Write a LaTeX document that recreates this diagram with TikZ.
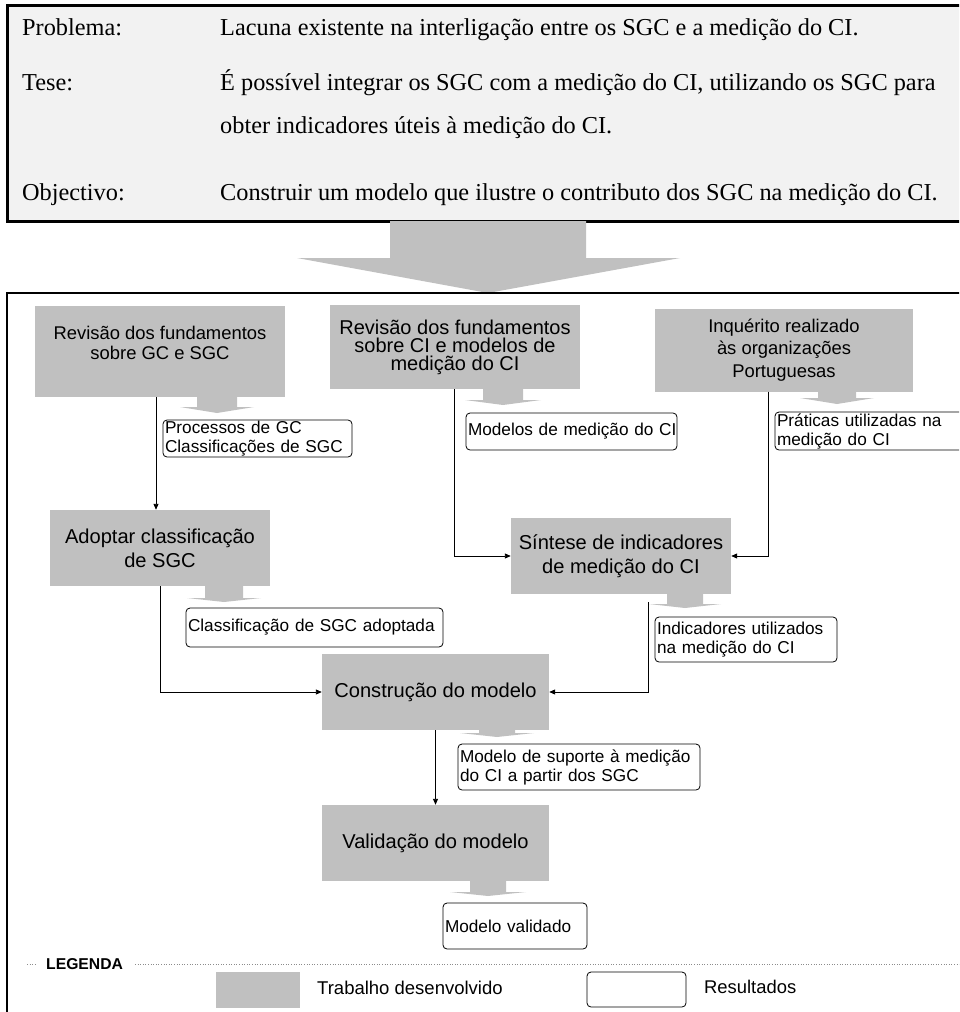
\documentclass[tikz,border=0pt]{standalone}
\usepackage{fontspec}
\setmainfont{Liberation Serif}
\setsansfont{Liberation Sans}
\usetikzlibrary{arrows.meta,calc}

\definecolor{silv}{HTML}{C0C0C0}
\definecolor{paper}{HTML}{F2F2F2}
\definecolor{legline}{HTML}{8C8C8C}

\newcommand\fs[2]{\fontsize{#1}{#2}\selectfont}
% small grey block arrow under a box: centre x, top y, neck y, tip y, half shaft, half head
\newcommand\outflow[6]{%
  \fill[silv] ({#1-#5},#2) -- ({#1-#5},#3) -- ({#1-#6},#3) -- (#1,#4)
    -- ({#1+#6},#3) -- ({#1+#5},#3) -- ({#1+#5},#2) -- cycle;}

\begin{document}
\begin{tikzpicture}[x=1pt,y=-1pt,
  work/.style={fill=silv, inner sep=0pt, align=center, font=\sffamily\fs{18.4}{20}},
  bigwork/.style={work, font=\sffamily\fs{20.1}{24}},
  res/.style={draw, rounded corners=4pt, line width=0.8pt, inner xsep=2pt, inner ysep=0pt,
              align=left, font=\sffamily\fs{17.2}{19}},
  conn/.style={line width=0.9pt, -{Triangle[length=6pt,width=5pt]}},
  topt/.style={anchor=base west, inner sep=0pt, font=\fs{24.3}{28}}]

\useasboundingbox (0,0) rectangle (959,1012);
\clip (0,0) rectangle (959,1012);

% statement panel
\draw[line width=3pt, fill=paper] (7,5) rectangle (975,221);
\node[topt] (p1) at (22,35) {Problema:};
\node[topt] (p2) at (220,35) {Lacuna existente na interligação entre os SGC e a medição do CI.};
\node[topt] (t1) at (22,90) {Tese:};
\node[topt] (t2) at (220,90) {É possível integrar os SGC com a medição do CI, utilizando os SGC para};
\node[topt] (t3) at (220,133) {obter indicadores úteis à medição do CI.};
\node[topt] (o1) at (22,200) {Objectivo:};
\node[topt] (o2) at (220,200) {Construir um modelo que ilustre o contributo dos SGC na medição do CI.};

% large arrow into the work frame
\fill[silv] (390,221) -- (586,221) -- (586,258) -- (680,258) -- (488,293)
  -- (297,258) -- (390,258) -- cycle;

% work frame
\draw[line width=2.5pt] (7,293) rectangle (975,1030);

% work boxes
\node[work, minimum width=250, minimum height=91] (b1) at (160,351.5) {};
\node[work] (b1t) at (160,343) {Revisão dos fundamentos\\sobre GC e  SGC};
\node[work, minimum width=250, minimum height=84, font=\sffamily\fs{20}{18}] (b2) at (455,347)
  {Revisão dos fundamentos\\sobre CI e modelos de\\medição do CI};
\node[work, minimum width=258, minimum height=83, font=\sffamily\fs{18.4}{22.5}] (b3) at (784,350)
  {Inquérito realizado\\às organizações\\Portuguesas};
\node[bigwork, minimum width=220, minimum height=76] (ad) at (160,548)
  {Adoptar classificação\\de SGC};
\node[bigwork, minimum width=220, minimum height=76] (sin) at (621,556)
  {Síntese de indicadores\\de medição do CI};
\node[bigwork, minimum width=227, minimum height=76] (con) at (435.5,692)
  {Construção do modelo};
\node[bigwork, minimum width=227, minimum height=76] (val) at (435.5,843)
  {Validação do modelo};

% block arrows towards the results
\outflow{217}{397}{407}{413}{20}{37}
\outflow{503}{389}{400}{405}{20}{38}
\outflow{837}{389}{398}{404}{19}{37}
\outflow{224}{586}{598}{602}{19}{37}
\outflow{685}{594}{604}{608}{18}{36}
\outflow{497}{730}{733}{737}{18}{37}
\outflow{488}{881}{892}{896}{18}{38}

% results
\node[res, text width=185, minimum height=37] (r1) at (257.5,438.5)
  {\mbox{Processos de GC}\\\mbox{Classificações de SGC}};
\node[res, text width=207, minimum height=37] (r2) at (571.5,431.5)
  {\mbox{Modelos de medição do CI}};
\node[res, text width=186, minimum height=38] (r3) at (870,431)
  {\mbox{Práticas utilizadas na}\\\mbox{medição do CI}};
\node[res, text width=253, minimum height=39] (r4) at (314.5,627.5)
  {\mbox{Classificação de SGC adoptada}};
\node[res, text width=178, minimum height=45] (r5) at (746,639.5)
  {\mbox{Indicadores utilizados}\\\mbox{na medição do CI}};
\node[res, text width=238, minimum height=46] (r6) at (579,767)
  {\mbox{Modelo de suporte à medição}\\\mbox{do CI a partir dos SGC}};
\node[res, text width=140, minimum height=46] (r7) at (515,926)
  {\mbox{Modelo validado}};

% connectors
\draw[conn] ([xshift=-4pt]b1.south) -- ([xshift=-4pt]b1.south |- ad.north);
\draw[conn] ([xshift=-1pt]b2.south) |- (sin.west);
\draw[conn] ([xshift=-16pt]b3.south) |- (sin.east);
\draw[conn] (ad.south) |- (con.west);
\draw[conn] ([xshift=27pt,yshift=-8pt]sin.south) |- (con.east);
\draw[conn] (con.south) -- (val.north);

% legend
\draw[legline, line width=0.6pt, dotted] (27,964) -- (37,964);
\node[anchor=west, inner sep=0pt, font=\sffamily\bfseries\fs{15.7}{18}] (leg) at (46,964) {LEGENDA};
\draw[legline, line width=0.6pt, dotted] (135,964) -- (975,964);
\node[fill=silv, minimum width=84, minimum height=36, inner sep=0pt] (lw) at (258,990) {};
\node[anchor=west, inner sep=0pt, font=\sffamily\fs{18.5}{20}] (lwt) at (317,988) {Trabalho desenvolvido};
\node[draw, rounded corners=4pt, line width=0.8pt, minimum width=99, minimum height=35, inner sep=0pt] (lr) at (636.5,989.5) {};
\node[anchor=west, inner sep=0pt, font=\sffamily\fs{18.4}{20}] (lrt) at (704,987) {Resultados};

\end{tikzpicture}
\end{document}
